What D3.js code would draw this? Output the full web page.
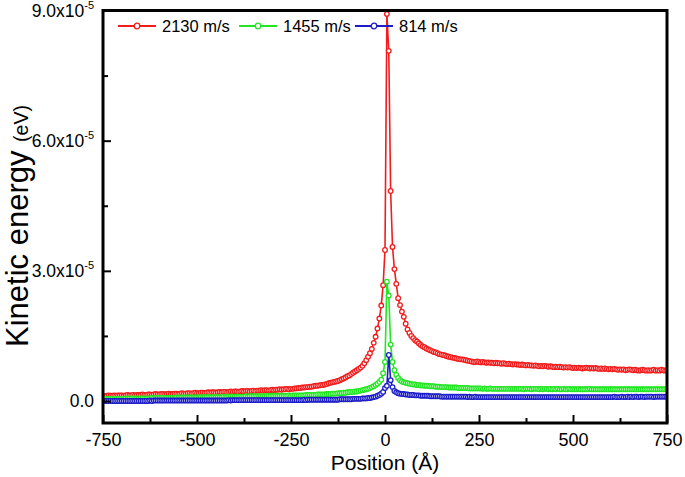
<!DOCTYPE html>
<html><head><meta charset="utf-8">
<script src="https://cdn.jsdelivr.net/npm/d3@7"></script>
<style>body{margin:0;background:#fff}svg{display:block;font-family:"Liberation Sans",Arial,sans-serif}</style>
</head><body><svg id="c" width="685" height="477"></svg>
<script>
// Positions (Å), sampled every 5 Å from -750 to 750
const positions = d3.range(-750, 751, 5);
const seriesNames = ["2130 m/s", "1455 m/s", "814 m/s"];
const seriesColors = ["#f21c1c", "#22e622", "#1c1cc8"];
// Kinetic energy values in units of 1e-5 eV
const red = [
 .12,.11,.12,.13,.12,.12,.13,.12,.13,.13,
 .13,.12,.13,.14,.13,.13,.14,.13,.14,.14,
 .14,.15,.14,.14,.15,.15,.14,.15,.16,.15,
 .15,.16,.16,.15,.16,.17,.16,.16,.17,.17,
 .16,.17,.18,.17,.17,.18,.18,.17,.18,.19,
 .18,.18,.19,.19,.18,.19,.20,.19,.20,.20,
 .19,.20,.21,.20,.21,.21,.20,.21,.22,.21,
 .22,.22,.21,.22,.23,.22,.23,.23,.22,.23,
 .24,.23,.24,.24,.25,.24,.25,.25,.24,.25,
 .26,.25,.26,.26,.27,.26,.27,.27,.28,.27,
 .28,.28,.29,.29,.30,.30,.31,.31,.32,.32,
 .33,.33,.34,.35,.35,.36,.37,.37,.38,.39,
 .41,.42,.43,.44,.45,.46,.48,.50,.52,.54,
 .57,.59,.62,.65,.68,.71,.74,.77,.81,.87,
 .94,1.02,1.10,1.20,1.34,1.48,1.67,1.90,2.20,2.67,3.48,
 8.92,8.07,4.84,3.55,3.04,2.70,2.37,2.21,2.06,1.94,
 1.78,1.65,1.57,1.50,1.45,1.40,1.37,1.33,1.29,1.26,
 1.24,1.21,1.19,1.17,1.15,1.13,1.12,1.10,1.08,1.07,
 1.06,1.05,1.03,1.02,1.01,1.00,.99,.98,.97,.96,
 .96,.95,.94,.93,.92,.91,.90,.90,.91,.90,
 .89,.90,.89,.88,.89,.88,.88,.87,.88,.87,
 .87,.86,.87,.86,.85,.86,.85,.84,.85,.84,
 .84,.83,.84,.83,.82,.83,.82,.82,.81,.82,
 .81,.80,.81,.80,.81,.80,.79,.80,.79,.78,
 .79,.78,.79,.78,.77,.78,.77,.78,.77,.76,
 .77,.76,.77,.76,.75,.76,.77,.76,.75,.76,
 .75,.76,.75,.74,.75,.74,.75,.74,.73,.74,
 .73,.74,.73,.72,.73,.72,.73,.71,.72,.73,
 .72,.71,.72,.71,.70,.71,.72,.71,.70,.71,
 .70,.71,.72,.70,.71,.70,.72,.71,.70,.71
];
const green = [
 .05,.05,.05,.05,.05,.05,.05,.05,.05,.05,
 .05,.05,.06,.05,.06,.06,.06,.06,.06,.06,
 .06,.06,.06,.06,.06,.06,.07,.06,.07,.07,
 .07,.07,.07,.07,.07,.07,.07,.07,.07,.08,
 .07,.08,.08,.08,.08,.08,.08,.08,.08,.08,
 .08,.08,.09,.08,.09,.09,.09,.09,.09,.09,
 .09,.09,.09,.09,.10,.09,.10,.10,.10,.10,
 .10,.10,.10,.10,.10,.10,.11,.10,.11,.11,
 .11,.11,.11,.11,.11,.11,.11,.11,.12,.11,
 .12,.12,.12,.12,.12,.12,.12,.12,.12,.13,
 .12,.13,.13,.13,.13,.13,.13,.13,.14,.14,
 .14,.14,.14,.14,.15,.15,.15,.15,.15,.16,
 .16,.16,.17,.17,.17,.18,.18,.18,.19,.19,
 .20,.20,.21,.21,.22,.22,.23,.24,.25,.26,
 .27,.28,.30,.32,.34,.37,.40,.44,.49,.64,.90,
 2.75,2.43,1.30,.90,.71,.60,.53,.48,.45,.43,
 .42,.41,.40,.39,.38,.38,.37,.37,.36,.36,
 .35,.35,.35,.34,.34,.34,.33,.33,.33,.32,
 .32,.32,.32,.31,.31,.31,.31,.31,.30,.30,
 .30,.30,.30,.30,.29,.29,.29,.29,.29,.29,
 .29,.28,.29,.28,.28,.29,.28,.28,.28,.28,
 .28,.28,.28,.28,.28,.28,.28,.28,.28,.28,
 .28,.28,.28,.27,.28,.28,.28,.27,.28,.28,
 .28,.27,.28,.27,.28,.28,.27,.28,.27,.28,
 .27,.28,.27,.27,.28,.27,.27,.28,.27,.27,
 .27,.27,.28,.27,.27,.27,.27,.27,.28,.27,
 .27,.27,.27,.27,.27,.27,.27,.27,.27,.27,
 .27,.27,.27,.27,.27,.27,.27,.27,.27,.27,
 .27,.27,.27,.27,.27,.27,.27,.27,.27,.27,
 .27,.27,.27,.27,.27,.27,.27,.27,.27,.27
];
const blue = [
 .00,.00,.00,.00,.00,.00,.00,.00,.00,.00,
 .00,.00,.00,.00,.00,.00,.00,.00,.00,.00,
 .00,.00,.00,.00,.00,.01,.00,.01,.01,.01,
 .01,.01,.01,.01,.01,.01,.01,.01,.01,.01,
 .01,.01,.01,.01,.01,.01,.01,.01,.01,.01,
 .01,.01,.01,.01,.01,.01,.01,.01,.01,.01,
 .01,.01,.01,.01,.01,.01,.01,.02,.01,.02,
 .02,.02,.02,.02,.02,.02,.02,.02,.02,.02,
 .02,.02,.02,.02,.02,.02,.02,.02,.02,.02,
 .02,.02,.02,.02,.02,.02,.02,.02,.02,.02,
 .02,.02,.02,.02,.02,.02,.02,.03,.02,.03,
 .03,.03,.03,.03,.03,.03,.03,.03,.03,.03,
 .03,.03,.03,.03,.03,.03,.04,.04,.04,.04,
 .04,.04,.04,.05,.05,.05,.05,.05,.06,.06,
 .06,.07,.07,.08,.09,.10,.12,.14,.17,.21,.30,
 .35,1.06,.48,.32,.23,.20,.18,.17,.16,.16,
 .15,.15,.14,.14,.14,.13,.13,.13,.12,.12,
 .12,.12,.12,.11,.11,.11,.11,.11,.11,.10,
 .10,.10,.10,.10,.10,.10,.10,.10,.10,.10,
 .10,.10,.10,.09,.10,.09,.09,.10,.09,.09,
 .09,.09,.09,.09,.09,.09,.09,.09,.09,.09,
 .09,.09,.09,.09,.09,.09,.09,.09,.09,.09,
 .09,.09,.09,.09,.09,.09,.09,.09,.09,.09,
 .09,.09,.09,.09,.09,.09,.09,.09,.09,.09,
 .09,.09,.09,.09,.09,.09,.09,.09,.09,.09,
 .09,.09,.09,.09,.09,.09,.09,.09,.09,.09,
 .09,.09,.09,.09,.09,.09,.09,.09,.09,.09,
 .09,.10,.09,.09,.09,.10,.09,.09,.10,.09,
 .10,.09,.10,.10,.09,.10,.10,.09,.10,.10,
 .10,.10,.09,.10,.10,.10,.10,.10,.10,.10
];
const xTickValues = [-750, -500, -250, 0, 250, 500, 750];
const xMinorTicks = [-625, -375, -125, 125, 375, 625];
const yTickValues = [0, 3, 6, 9];
const yTickLabels = ["0.0", "3.0x10", "6.0x10", "9.0x10"];
const yTickExp = ["", "-5", "-5", "-5"];
const yMinorTicks = [1.5, 4.5, 7.5];

const L = 103, R = 667, T = 10.5, B = 423;
const svg = d3.select("#c");
const x = d3.scaleLinear().domain([-750, 750]).range([L, R]);
const y = d3.scaleLinear().domain([-0.507, 9]).range([B, T]);

const allSeries = [red, green, blue];
svg.append("clipPath").attr("id", "clp").append("rect")
  .attr("x", L).attr("y", T - 6).attr("width", R - L).attr("height", B - T + 6);

const plot = svg.append("g").attr("clip-path", "url(#clp)");
allSeries.forEach((vals, si) => {
  const data = positions.map((p, i) => [p, vals[i]]);
  const col = seriesColors[si];
  plot.append("path").datum(data)
    .attr("fill", "none").attr("stroke", col).attr("stroke-width", 1.6)
    .attr("d", d3.line().x(d => x(d[0])).y(d => y(d[1])));
  plot.append("g").selectAll("circle").data(data).join("circle")
    .attr("cx", d => x(d[0])).attr("cy", d => y(d[1])).attr("r", 2.3)
    .attr("fill", "#fff").attr("stroke", col).attr("stroke-width", 1.3);
});

// Axes (ticks inward)
const xAxis = svg.append("g").attr("transform", `translate(0,${B})`)
  .call(d3.axisBottom(x).tickValues(xTickValues).tickSize(-8).tickPadding(10).tickFormat(d => d));
xAxis.select(".domain").remove();
xAxis.selectAll("line").attr("stroke", "#000").attr("stroke-width", 2);
xAxis.selectAll("text").attr("font-size", 18).attr("fill", "#000")
  .attr("font-family", "Liberation Sans, Arial, sans-serif").attr("dy", "0.71em");
svg.append("g").attr("transform", `translate(0,${B})`)
  .call(d3.axisBottom(x).tickValues(xMinorTicks).tickSize(-5).tickFormat(""))
  .call(g => g.select(".domain").remove())
  .selectAll("line").attr("stroke", "#000").attr("stroke-width", 2);

const yAxis = svg.append("g").attr("transform", `translate(${L},0)`)
  .call(d3.axisLeft(y).tickValues(yTickValues).tickSize(-8).tickFormat(""));
yAxis.select(".domain").remove();
yAxis.selectAll("line").attr("stroke", "#000").attr("stroke-width", 2);
svg.append("g").attr("transform", `translate(${L},0)`)
  .call(d3.axisLeft(y).tickValues(yMinorTicks).tickSize(-5).tickFormat(""))
  .call(g => g.select(".domain").remove())
  .selectAll("line").attr("stroke", "#000").attr("stroke-width", 2);

yTickValues.forEach((v, i) => {
  const t = svg.append("text").attr("x", 94).attr("y", y(v) + 6)
    .attr("text-anchor", "end").attr("font-size", 17.5).attr("fill", "#000");
  t.append("tspan").text(yTickLabels[i]);
  if (yTickExp[i]) t.append("tspan").attr("dy", -8).attr("font-size", 11).text(yTickExp[i]);
});

// Frame
svg.append("rect").attr("x", L).attr("y", T).attr("width", R - L).attr("height", B - T)
  .attr("fill", "none").attr("stroke", "#000").attr("stroke-width", 3);

// Axis titles
svg.append("text").attr("x", (L + R) / 2).attr("y", 470).attr("text-anchor", "middle")
  .attr("font-size", 21).attr("fill", "#000").text("Position (Å)");
const yt = svg.append("text").attr("transform", "translate(28,347) rotate(-90)")
  .attr("text-anchor", "start").attr("fill", "#000");
yt.append("tspan").attr("font-size", 31).text("Kinetic energy ");
yt.append("tspan").attr("font-size", 19.5).text("(eV)");

// Legend
const legendX = [118, 239, 355];
seriesNames.forEach((n, i) => {
  const g = svg.append("g").attr("transform", `translate(${legendX[i]},26)`);
  g.append("line").attr("x1", 0).attr("x2", 38).attr("stroke", seriesColors[i]).attr("stroke-width", 2);
  g.append("circle").attr("cx", 19).attr("r", 2.8).attr("fill", "#fff")
    .attr("stroke", seriesColors[i]).attr("stroke-width", 1.3);
  g.append("text").attr("x", 44).attr("y", 6).attr("font-size", 16.5).attr("fill", "#000").text(n);
});
</script></body></html>
